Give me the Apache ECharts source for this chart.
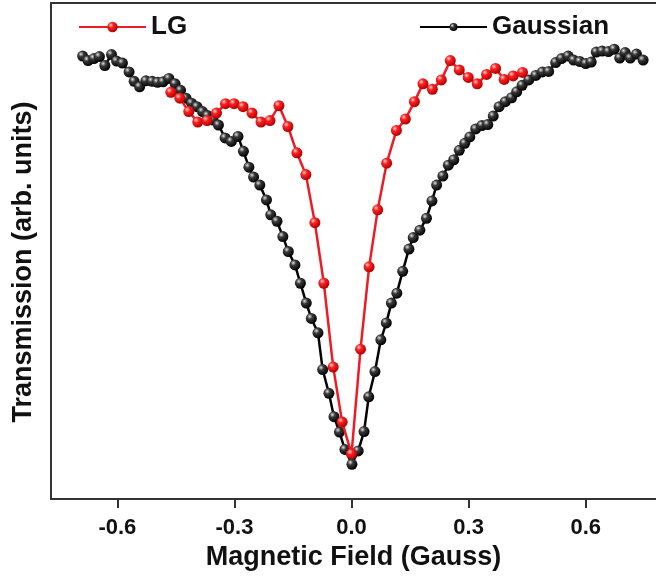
<!DOCTYPE html>
<html>
<head>
<meta charset="utf-8">
<script src="https://cdn.jsdelivr.net/npm/echarts@6/dist/echarts.min.js"></script>
<style>
  html, body { margin: 0; padding: 0; background: #ffffff; }
  #chart { width: 656px; height: 576px; }
</style>
</head>
<body>
<div id="chart"></div>
<script>
// Tick positions on the field axis (Gauss)
const fieldTicks = [-0.6, -0.3, 0.0, 0.3, 0.6];

// LG beam: magnetic field (Gauss) and transmission (arb. units)
const lgField = [
  -0.463, -0.440, -0.417, -0.394, -0.370, -0.346, -0.323, -0.301, -0.278, -0.255,
  -0.232, -0.209, -0.186, -0.163, -0.140, -0.117, -0.094, -0.071, -0.047, -0.024,
   0.000,  0.023,  0.045,  0.067,  0.090,  0.115,  0.138,  0.161,  0.183,  0.207,
   0.230,  0.253,  0.276,  0.299,  0.322,  0.346,  0.369,  0.391,  0.414,  0.438
];
const lgTrans = [
  0.820, 0.808, 0.781, 0.760, 0.763, 0.778, 0.797, 0.797, 0.791, 0.778,
  0.760, 0.763, 0.793, 0.751, 0.698, 0.654, 0.557, 0.435, 0.266, 0.155,
  0.091, 0.302, 0.468, 0.583, 0.677, 0.743, 0.766, 0.801, 0.837, 0.826,
  0.845, 0.884, 0.865, 0.850, 0.837, 0.856, 0.868, 0.846, 0.853, 0.860
];

// Gaussian beam: magnetic field (Gauss) and transmission (arb. units)
const gaussField = [
  -0.689, -0.675, -0.660, -0.646, -0.632, -0.615, -0.602, -0.587, -0.570, -0.557,
  -0.543, -0.527, -0.511, -0.497, -0.483, -0.468, -0.452, -0.438, -0.424, -0.410,
  -0.396, -0.382, -0.369, -0.355, -0.341, -0.324, -0.308, -0.291, -0.277, -0.263,
  -0.251, -0.235, -0.218, -0.207, -0.191, -0.176, -0.162, -0.145, -0.131, -0.116,
  -0.103, -0.086, -0.074, -0.058, -0.045, -0.031, -0.017,  0.001,  0.017,  0.032,
   0.044,  0.060,  0.075,  0.089,  0.102,  0.116,  0.131,  0.147,  0.158,  0.175,
   0.192,  0.206,  0.218,  0.234,  0.248,  0.262,  0.276,  0.290,  0.303,  0.318,
   0.334,  0.349,  0.363,  0.378,  0.394,  0.410,  0.423,  0.437,  0.454,  0.472,
   0.489,  0.505,  0.523,  0.538,  0.555,  0.569,  0.585,  0.600,  0.614,  0.627,
   0.642,  0.658,  0.673,  0.687,  0.701,  0.714,  0.730,  0.747
];
const gaussTrans = [
  0.893, 0.884, 0.888, 0.892, 0.874, 0.896, 0.883, 0.879, 0.861, 0.842,
  0.831, 0.843, 0.842, 0.840, 0.841, 0.848, 0.837, 0.824, 0.808, 0.798,
  0.791, 0.781, 0.773, 0.764, 0.754, 0.728, 0.721, 0.731, 0.701, 0.669,
  0.649, 0.633, 0.603, 0.573, 0.560, 0.529, 0.499, 0.472, 0.435, 0.395,
  0.364, 0.335, 0.261, 0.213, 0.166, 0.135, 0.100, 0.070, 0.097, 0.136,
  0.206, 0.257, 0.321, 0.355, 0.395, 0.415, 0.459, 0.504, 0.527, 0.542,
  0.566, 0.601, 0.633, 0.651, 0.673, 0.684, 0.703, 0.717, 0.730, 0.746,
  0.753, 0.755, 0.772, 0.791, 0.801, 0.809, 0.821, 0.834, 0.845, 0.854,
  0.861, 0.862, 0.880, 0.888, 0.893, 0.885, 0.882, 0.878, 0.881, 0.901,
  0.903, 0.902, 0.907, 0.889, 0.900, 0.889, 0.897, 0.885
];

const FONT = "'Liberation Sans', Arial, Helvetica, sans-serif";
const AXIS_COLOR = '#333333';
const TEXT_COLOR = '#111111';

function zip(xs, ys) {
  return xs.map(function (x, i) { return [x, ys[i]]; });
}

// Shaded "ball" markers
function ball(light, mid, dark) {
  return {
    type: 'radial', x: 0.35, y: 0.32, r: 0.7,
    colorStops: [
      { offset: 0, color: light },
      { offset: 0.35, color: mid },
      { offset: 1, color: dark }
    ]
  };
}

const chart = echarts.init(document.getElementById('chart'), null, { renderer: 'canvas' });

const legendText = { fontFamily: FONT, fontSize: 26, fontWeight: 'bold', color: TEXT_COLOR };

chart.setOption({
  animation: false,
  backgroundColor: '#ffffff',
  grid: { left: 51, top: 3, width: 605.4, height: 496, containLabel: false },
  legend: [
    {
      data: ['LG'], left: 78, top: 14, padding: 0,
      itemWidth: 67, itemHeight: 13, textStyle: legendText
    },
    {
      data: ['Gaussian'], left: 419, top: 14, padding: 0,
      itemWidth: 67, itemHeight: 10, textStyle: legendText
    }
  ],
  xAxis: [
    {
      type: 'value', min: -0.77, max: 0.78,
      axisLine: { show: true, onZero: false, lineStyle: { color: AXIS_COLOR, width: 2 } },
      axisTick: { show: true, inside: false, length: 9, customValues: fieldTicks,
                  lineStyle: { color: AXIS_COLOR, width: 2 } },
      axisLabel: {
        customValues: fieldTicks, margin: 18,
        fontFamily: FONT, fontSize: 22, fontWeight: 'bold', color: TEXT_COLOR,
        formatter: function (v) { return (Math.abs(v) < 1e-9 ? 0 : v).toFixed(1); }
      },
      splitLine: { show: false },
      name: 'Magnetic Field (Gauss)', nameLocation: 'middle', nameGap: 41,
      nameTextStyle: { fontFamily: FONT, fontSize: 27, fontWeight: 'bold', color: TEXT_COLOR }
    },
    {
      type: 'value', position: 'top', min: -0.77, max: 0.78,
      axisLine: { show: true, onZero: false, lineStyle: { color: AXIS_COLOR, width: 2 } },
      axisTick: { show: false }, axisLabel: { show: false }, splitLine: { show: false }
    }
  ],
  yAxis: {
    type: 'value', min: 0, max: 1,
    axisLine: { show: true, onZero: false, lineStyle: { color: AXIS_COLOR, width: 2 } },
    axisTick: { show: false }, axisLabel: { show: false }, splitLine: { show: false },
    name: 'Transmission (arb. units)', nameLocation: 'middle', nameGap: 14,
    nameTextStyle: { fontFamily: FONT, fontSize: 27, fontWeight: 'bold', color: TEXT_COLOR,
                     padding: [0, 22, 0, 0] }
  },
  series: [
    {
      name: 'Gaussian', type: 'line', xAxisIndex: 0, yAxisIndex: 0,
      data: zip(gaussField, gaussTrans),
      symbol: 'circle', symbolSize: 11, showAllSymbol: true,
      lineStyle: { color: '#000000', width: 2.5 },
      itemStyle: { color: ball('#e0e0e0', '#3a3a3a', '#000000'), borderWidth: 0 },
      z: 2
    },
    {
      name: 'LG', type: 'line', xAxisIndex: 0, yAxisIndex: 0,
      data: zip(lgField, lgTrans),
      symbol: 'circle', symbolSize: 11, showAllSymbol: true,
      lineStyle: { color: '#ec1c24', width: 2.5 },
      itemStyle: { color: ball('#ffd6d6', '#ff2020', '#b00000'), borderWidth: 0 },
      z: 3
    }
  ]
});
</script>
</body>
</html>
